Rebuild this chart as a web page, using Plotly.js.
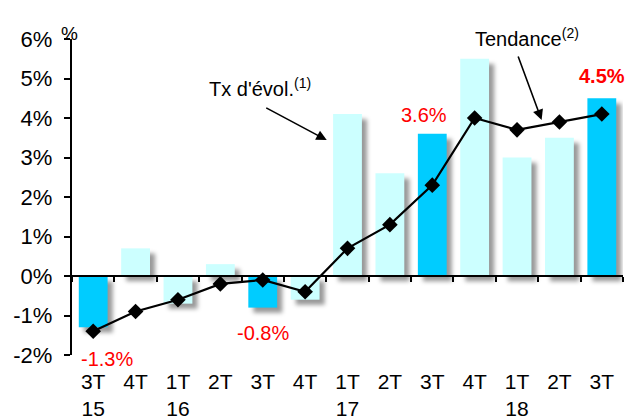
<!DOCTYPE html>
<html>
<head>
<meta charset="utf-8">
<script src="https://cdn.plot.ly/plotly-3.0.1.min.js"></script>
<style>
  html, body { margin: 0; padding: 0; background: #fff; }
  #chart { width: 628px; height: 419px; }
</style>
</head>
<body>
<div id="chart"></div>
<script>
// Quarterly growth rate and trend, in %
const quarters = ['3T', '4T', '1T', '2T', '3T', '4T', '1T', '2T', '3T', '4T', '1T', '2T', '3T'];
const years    = ['15', '15', '16', '16', '16', '16', '17', '17', '17', '17', '18', '18', '18'];
const growth   = [-1.3, 0.7, -0.7, 0.3, -0.8, -0.6, 4.1, 2.6, 3.6, 5.5, 3.0, 3.5, 4.5];
const trend    = [-1.4, -0.9, -0.6, -0.2, -0.1, -0.4, 0.7, 1.3, 2.3, 4.0, 3.7, 3.9, 4.1];
const yTicks   = [-2, -1, 0, 1, 2, 3, 4, 5, 6];

const FONT = 'Liberation Sans, Arial, sans-serif';
const DARK = '#00CCFF';
const LIGHT = '#CCFFFF';

const idx = quarters.map((q, i) => i);
const tickText = quarters.map((q, i) => (i === 0 || q === '1T') ? q + '<br>' + years[i] : q);
const barColors = quarters.map(q => q === '3T' ? DARK : LIGHT);

const BAR_W = 0.68;

// soft drop shadow behind every bar
const shadow = {
  type: 'bar', x: idx, y: growth, base: -0.13,
  width: BAR_W, offset: -BAR_W / 2 + 0.12,
  marker: { color: 'rgba(0,0,0,0.4)', line: { width: 0 } },
  hoverinfo: 'skip', showlegend: false
};

const bars = {
  type: 'bar', x: idx, y: growth,
  width: BAR_W, offset: -BAR_W / 2,
  marker: { color: barColors, line: { width: 0 } },
  showlegend: false
};

const trendLine = {
  type: 'scatter', mode: 'lines+markers', x: idx, y: trend,
  line: { color: '#000', width: 2.2 },
  marker: { symbol: 'diamond', size: 12, color: '#000' },
  showlegend: false
};

// value labels for the third-quarter bars
const labelShift = { 0: [-32, 14], 4: [-25, 0], 8: [19, -8], 12: [22, 0] };
const valueLabels = idx.filter(i => quarters[i] === '3T').map(i => ({
  x: i, y: growth[i], xref: 'x', yref: 'y',
  text: growth[i].toFixed(1) + '%',
  showarrow: false,
  yshift: labelShift[i][0], xshift: labelShift[i][1],
  font: { family: FONT, size: 20, color: '#FF0000', weight: i === quarters.length - 1 ? 'bold' : 'normal' }
}));

const annotations = valueLabels.concat([
  { xref: 'paper', yref: 'paper', x: -0.005, y: 1.057, xanchor: 'center', text: '%', showarrow: false,
    font: { family: FONT, size: 19, color: '#000' } },
  { x: 3.93, y: 4.76, xref: 'x', yref: 'y', xanchor: 'center', text: "Tx d'évol.<sup>(1)</sup>", showarrow: false,
    font: { family: FONT, size: 20, color: '#000' } },
  { x: 5.51, y: 3.44, xref: 'x', yref: 'y', ax: -62, ay: -33, text: '', showarrow: true,
    arrowhead: 2, arrowsize: 1.3, arrowwidth: 1.6, arrowcolor: '#000' },
  { x: 0.826, y: 1.0, xref: 'paper', yref: 'paper', xanchor: 'center', yanchor: 'middle', yshift: 2,
    text: 'Tendance<sup>(2)</sup>', showarrow: false,
    font: { family: FONT, size: 20, color: '#000' } },
  { x: 10.58, y: 3.95, xref: 'x', yref: 'y', ax: -24, ay: -65, text: '', showarrow: true,
    arrowhead: 2, arrowsize: 1.3, arrowwidth: 1.6, arrowcolor: '#000' }
]);

const layout = {
  width: 628, height: 419,
  margin: { l: 72, r: 5, t: 39, b: 64 },
  paper_bgcolor: '#fff', plot_bgcolor: '#fff',
  barmode: 'overlay',
  font: { family: FONT, color: '#000' },
  xaxis: {
    range: [-0.5, 12.5], tickvals: idx, ticktext: tickText,
    showline: false, showgrid: false, zeroline: false, ticks: '',
    ticklabelstandoff: 12,
    tickfont: { family: FONT, size: 21, color: '#000' }
  },
  // category axis drawn along the 0% line
  xaxis2: {
    overlaying: 'x', anchor: 'free', position: 0.25,
    range: [-0.5, 12.5], tickvals: [-0.5].concat(idx.map(i => i + 0.5)),
    showticklabels: false, showgrid: false, zeroline: false,
    showline: true, linecolor: '#000', linewidth: 2.2,
    ticks: 'outside', ticklen: 5, tickwidth: 2, tickcolor: '#000'
  },
  yaxis: {
    range: [-2, 6], tickvals: yTicks, ticktext: yTicks.map(v => v + '%'),
    showline: true, linecolor: '#000', linewidth: 2.2,
    ticks: 'outside', ticklen: 6, tickwidth: 2, tickcolor: '#000',
    ticklabelstandoff: 7,
    showgrid: false, zeroline: false,
    tickfont: { family: FONT, size: 22, color: '#000' }
  },
  annotations: annotations,
  showlegend: false
};

const axisHolder = { type: 'scatter', x: [], y: [], xaxis: 'x2', yaxis: 'y', showlegend: false, hoverinfo: 'skip' };

Plotly.newPlot('chart', [shadow, bars, trendLine, axisHolder], layout, { staticPlot: true }).then(gd => {
  // blur the shadow bars
  const svg = gd.querySelector('svg.main-svg');
  const ns = 'http://www.w3.org/2000/svg';
  let defs = svg.querySelector('defs');
  if (!defs) { defs = document.createElementNS(ns, 'defs'); svg.insertBefore(defs, svg.firstChild); }
  const filter = document.createElementNS(ns, 'filter');
  filter.setAttribute('id', 'barShadowBlur');
  filter.setAttribute('x', '-50%'); filter.setAttribute('y', '-50%');
  filter.setAttribute('width', '200%'); filter.setAttribute('height', '200%');
  const blur = document.createElementNS(ns, 'feGaussianBlur');
  blur.setAttribute('stdDeviation', '2');
  filter.appendChild(blur);
  defs.appendChild(filter);
  const traces = gd.querySelectorAll('.barlayer .trace');
  if (traces.length) traces[0].setAttribute('filter', 'url(#barShadowBlur)');
});
</script>
</body>
</html>
